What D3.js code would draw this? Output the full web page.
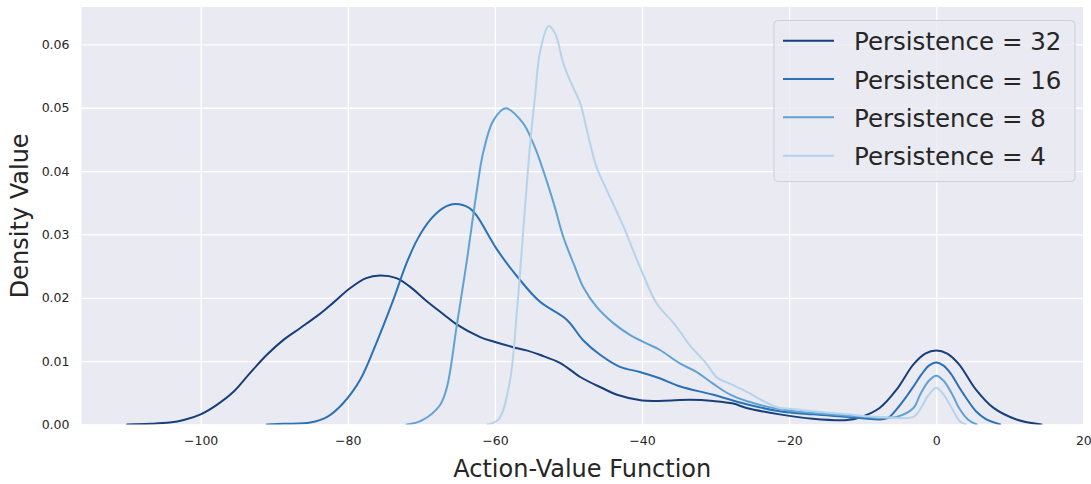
<!DOCTYPE html>
<html>
<head>
<meta charset="utf-8">
<script src="https://cdn.jsdelivr.net/npm/d3@7"></script>
<style>
  html, body { margin: 0; padding: 0; background: #ffffff; }
  svg { display: block; font-family: "DejaVu Sans", sans-serif; }
  .tick text { font-size: 12.5px; font-family: "DejaVu Sans", sans-serif; }
</style>
</head>
<body>
<svg id="chart" width="1091" height="484"></svg>
<script>
// Kernel density curves of the action-value function, one per persistence setting.
const seriesNames = ["Persistence = 32", "Persistence = 16", "Persistence = 8", "Persistence = 4"];
const seriesColors = ["#173f7c", "#2a72b7", "#5ea3d3", "#b5d3ea"];

const p32X = [-110, -106.9, -104.2, -102.3, -100, -97.8, -95.5, -93.3, -91, -88.7, -86.5, -84.2, -82, -79.7, -77.5, -75.6, -73.4, -71.6, -69.3, -67, -65.2, -62, -60.2, -57.5, -55.7, -53.9, -51.1, -48.4, -45.5, -43.4, -40, -36, -33.5, -30.3, -27.6, -25.8, -21.3, -16.8, -12.1, -10.4, -7.7, -5.4, -3.1, -1.5, 0, 1.5, 3.1, 5.4, 7.7, 10.9, 14.3];
const p32Y = [0, 0.0001, 0.0003, 0.0007, 0.0016, 0.0031, 0.0052, 0.0081, 0.011, 0.0134, 0.0152, 0.0171, 0.0192, 0.0215, 0.0231, 0.0235, 0.0231, 0.0218, 0.0195, 0.0174, 0.0158, 0.0138, 0.0131, 0.0122, 0.0117, 0.011, 0.0097, 0.0075, 0.0058, 0.0047, 0.0038, 0.0038, 0.0039, 0.0037, 0.0033, 0.0026, 0.0016, 0.0009, 0.0007, 0.0011, 0.0026, 0.0055, 0.0095, 0.0112, 0.0117, 0.0112, 0.0095, 0.0055, 0.0027, 0.0008, 0];

const p16X = [-91, -88.7, -85.1, -82.8, -80.6, -78.3, -76.1, -73.8, -72, -70.5, -68.8, -67, -65.4, -63.5, -62.5, -59.7, -57, -53.9, -50.2, -48, -45.7, -43, -40.3, -37.6, -34.8, -30.3, -25.8, -21.3, -16.8, -12.1, -7.7, -6.5, -5.4, -4, -3.1, -2, -1, 0, 1, 2, 3.1, 4, 5.4, 6.7, 8.7];
const p16Y = [0, 0.0001, 0.0003, 0.0012, 0.0034, 0.0071, 0.0129, 0.0197, 0.0255, 0.0293, 0.0323, 0.0342, 0.0348, 0.0342, 0.033, 0.0276, 0.0234, 0.0194, 0.0165, 0.0133, 0.011, 0.0091, 0.0083, 0.0073, 0.006, 0.0047, 0.0032, 0.0021, 0.0016, 0.0012, 0.0008, 0.0011, 0.0024, 0.0045, 0.006, 0.0079, 0.0093, 0.0098, 0.0093, 0.008, 0.0059, 0.0043, 0.0021, 0.0009, 0];

const p8X = [-72, -70, -67.5, -66.5, -65.2, -63.8, -62.5, -61.6, -60.2, -58.5, -56.2, -54.8, -53.9, -52, -50.7, -49.3, -48, -46.2, -43.9, -41.6, -39.4, -37.6, -34.8, -32.6, -30.3, -28, -25.8, -21.3, -16.8, -12.1, -7.7, -5.4, -3.1, -2.2, -1, 0, 1, 2.2, 3.1, 4.3, 5.5];
const p8Y = [0, 0.0006, 0.003, 0.006, 0.0155, 0.026, 0.0366, 0.0429, 0.048, 0.0499, 0.0476, 0.0444, 0.0417, 0.0349, 0.0296, 0.0254, 0.0217, 0.0186, 0.016, 0.0141, 0.0128, 0.0118, 0.0096, 0.0083, 0.0064, 0.0047, 0.0037, 0.0024, 0.0018, 0.0014, 0.0011, 0.0012, 0.0026, 0.0047, 0.0069, 0.0077, 0.0069, 0.0047, 0.0026, 0.0008, 0];

const p4X = [-61, -59.5, -58, -57, -56.1, -55.2, -54.5, -53.9, -52.7, -51.8, -50.7, -49.6, -48.4, -47.5, -46.2, -44.8, -42.5, -40.3, -38, -35.7, -34.8, -33.5, -31.3, -29.8, -28, -25.8, -23.5, -21.3, -19.9, -16.8, -12.1, -7.7, -3.1, -2.2, -1, 0, 1, 2.2, 3.2, 4];
const p4Y = [0, 0.0008, 0.0066, 0.018, 0.0313, 0.0444, 0.0523, 0.0586, 0.0629, 0.0617, 0.057, 0.0538, 0.0507, 0.0465, 0.0407, 0.037, 0.0312, 0.0249, 0.0191, 0.016, 0.0146, 0.0125, 0.0097, 0.0074, 0.0064, 0.0052, 0.0037, 0.0026, 0.0025, 0.0021, 0.0016, 0.0012, 0.0012, 0.0024, 0.0047, 0.0058, 0.0047, 0.0024, 0.0005, 0];

const xTicks = [-100, -80, -60, -40, -20, 0, 20];
const yTicks = [0, 0.01, 0.02, 0.03, 0.04, 0.05, 0.06];
const xLabel = "Action-Value Function";
const yLabel = "Density Value";

const seriesX = [p32X, p16X, p8X, p4X];
const seriesY = [p32Y, p16Y, p8Y, p4Y];

const svg = d3.select("#chart");
const plot = { left: 81.5, right: 1083, top: 7, bottom: 424.5 };
const textColor = "#262626";

const x = d3.scaleLinear().domain([-116.2, 19.95]).range([plot.left, plot.right]);
const y = d3.scaleLinear().domain([0, 0.0659]).range([plot.bottom, plot.top]);

// Plot background
svg.append("rect")
  .attr("x", plot.left).attr("y", plot.top)
  .attr("width", plot.right - plot.left).attr("height", plot.bottom - plot.top)
  .attr("fill", "#eaeaf2");

svg.append("clipPath").attr("id", "plot-clip")
  .append("rect")
  .attr("x", plot.left).attr("y", plot.top)
  .attr("width", plot.right - plot.left).attr("height", plot.bottom - plot.top);

// Grid lines drawn through the axes' tick lines
const xAxis = d3.axisBottom(x).tickValues(xTicks)
  .tickSize(-(plot.bottom - plot.top)).tickPadding(12)
  .tickFormat(d => d3.format("d")(d).replace("-", "\u2212"));
const gx = svg.append("g").attr("transform", `translate(0,${plot.bottom})`).call(xAxis);
gx.attr("font-size", null).attr("font-family", null);
gx.select(".domain").remove();
gx.selectAll(".tick line").attr("stroke", "#ffffff").attr("stroke-width", 1.3);
gx.selectAll(".tick text").attr("fill", textColor);

const yAxis = d3.axisLeft(y).tickValues(yTicks)
  .tickSize(-(plot.right - plot.left)).tickPadding(12)
  .tickFormat(d3.format(".2f"));
const gy = svg.append("g").attr("transform", `translate(${plot.left},0)`).call(yAxis);
gy.attr("font-size", null).attr("font-family", null);
gy.select(".domain").remove();
gy.selectAll(".tick line").attr("stroke", "#ffffff").attr("stroke-width", 1.3);
gy.selectAll(".tick text").attr("fill", textColor);

// Density curves, smoothed between the sampled values
const line = d3.line()
  .x(d => x(d[0]))
  .y(d => y(d[1]))
  .curve(d3.curveCatmullRom.alpha(0.5));

const curves = svg.append("g").attr("clip-path", "url(#plot-clip)");
seriesNames.forEach((name, i) => {
  const pts = d3.zip(seriesX[i], seriesY[i]);
  curves.append("path")
    .datum(pts)
    .attr("d", line)
    .attr("fill", "none")
    .attr("stroke", seriesColors[i])
    .attr("stroke-width", 2)
    .attr("stroke-linejoin", "round")
    .attr("stroke-linecap", "round");
});

// Axis titles
svg.append("text")
  .attr("x", (plot.left + plot.right) / 2).attr("y", 477)
  .attr("text-anchor", "middle")
  .attr("font-size", "24px").attr("fill", textColor)
  .text(xLabel);

svg.append("text")
  .attr("transform", `translate(28,${(plot.top + plot.bottom) / 2}) rotate(-90)`)
  .attr("text-anchor", "middle")
  .attr("font-size", "24px").attr("fill", textColor)
  .text(yLabel);

// Legend
const legend = svg.append("g");
legend.append("rect")
  .attr("x", 774).attr("y", 20.5).attr("width", 301).attr("height", 161).attr("rx", 4)
  .attr("fill", "#eaeaf2").attr("fill-opacity", 0.8)
  .attr("stroke", "#cfcfd6").attr("stroke-width", 1);
const rowY = d3.scaleLinear().domain([0, 3]).range([40.7, 155.7]);
seriesNames.forEach((name, i) => {
  legend.append("line")
    .attr("x1", 783).attr("x2", 834)
    .attr("y1", rowY(i)).attr("y2", rowY(i))
    .attr("stroke", seriesColors[i]).attr("stroke-width", 2);
  legend.append("text")
    .attr("x", 854).attr("y", rowY(i) + 9.5)
    .attr("font-size", "24.5px").attr("fill", textColor)
    .text(name);
});
</script>
</body>
</html>
